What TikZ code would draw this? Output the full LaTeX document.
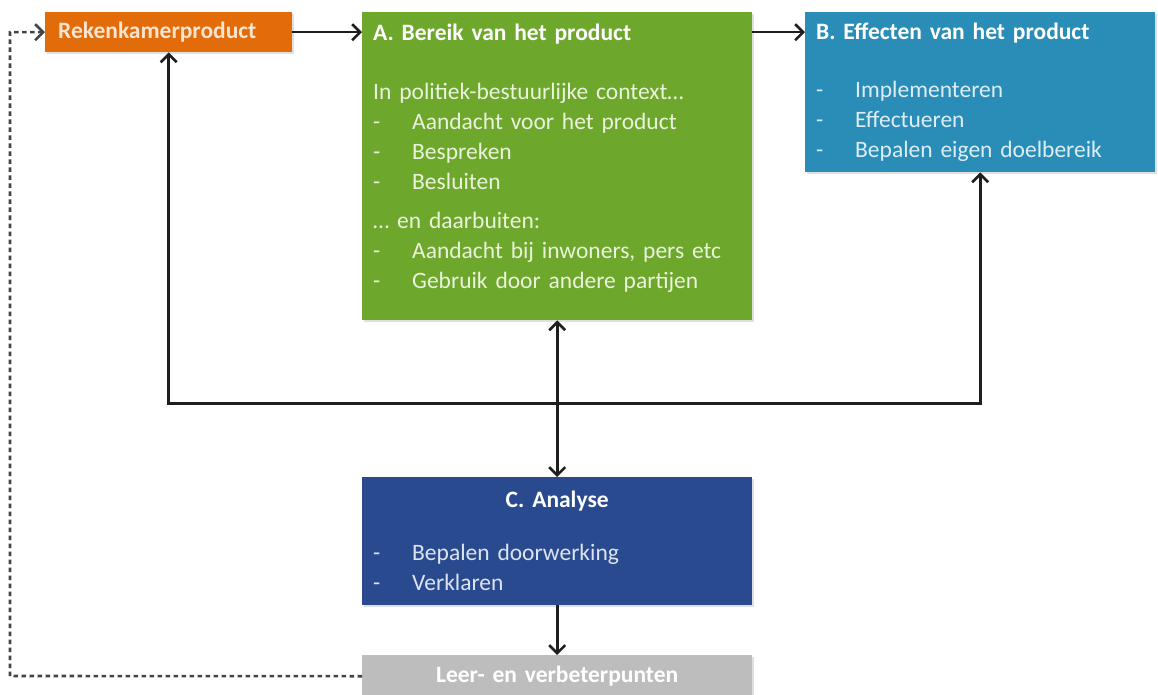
\documentclass[tikz,border=0pt]{standalone}
\usepackage{fontspec}
\setmainfont{Carlito}
\usepackage{xcolor}
\usepackage{tikz}
\usetikzlibrary{calc,arrows.meta,shadows}
\definecolor{ink}{HTML}{1E1E1E}
\definecolor{dashink}{HTML}{444444}
\definecolor{orangebg}{HTML}{E36C0A}
\definecolor{orangetx}{HTML}{FCE4CF}
\definecolor{greenbg}{HTML}{6DA72C}
\definecolor{greentx}{HTML}{EAF3DC}
\definecolor{aquabg}{HTML}{2A8DB8}
\definecolor{aquatx}{HTML}{DCEEF5}
\definecolor{navybg}{HTML}{2A4A90}
\definecolor{navytx}{HTML}{DCE4F2}
\definecolor{greybg}{HTML}{BDBDBD}
\tikzset{
  box/.style={rectangle, anchor=north west, inner xsep=11pt, inner ysep=0pt,
    align=left, font=\fontsize{23.5}{30}\selectfont,
    drop shadow={shadow xshift=1.5pt, shadow yshift=-1.5pt, opacity=0.25}},
  conn/.style={draw=ink, line width=2.6pt, -{Straight Barb[length=8pt,width=16pt]}},
  both/.style={conn, {Straight Barb[length=8pt,width=16pt]}-{Straight Barb[length=8pt,width=16pt]}},
  back/.style={draw=dashink, line width=2.6pt, dash pattern=on 4.5pt off 3.5pt,
    -{Straight Barb[length=8pt,width=16pt]}}
}
\newcommand{\dashitem}[1]{\makebox[39pt][l]{-}#1}

\begin{document}
\begin{tikzpicture}[x=1pt,y=-1pt]
  \useasboundingbox (0,0) rectangle (1158,695);
  % boxes
  \node[box, fill=orangebg, text=orangetx, minimum width=247pt, minimum height=40pt,
    inner xsep=13pt, text width=221pt, font=\fontsize{23.5}{30}\selectfont\bfseries] (reken) at (45,12)
    {Rekenkamerproduct};
  \node[box, fill=greenbg, text=greentx, minimum width=390pt, minimum height=308pt,
    text width=368pt, text height=1pt] (bereik) at (362,12)
    {{\bfseries\color{white}A. Bereik van het product}\\[29pt]
     In politiek-bestuurlijke context\dots\\
     \dashitem{Aandacht voor het product}\\
     \dashitem{Bespreken}\\
     \dashitem{Besluiten}\\[9pt]
     \dots\ en daarbuiten:\\
     \dashitem{Aandacht bij inwoners, pers etc}\\
     \dashitem{Gebruik door andere partijen}};
  \node[box, fill=aquabg, text=aquatx, minimum width=350pt, minimum height=160pt,
    text width=328pt] (effect) at (805,12)
    {{\bfseries\color{white}B. Effecten van het product}\\[28pt]
     \dashitem{Implementeren}\\
     \dashitem{Effectueren}\\
     \dashitem{Bepalen eigen doelbereik}};
  \node[box, fill=navybg, text=navytx, minimum width=390pt, minimum height=128pt,
    text width=368pt] (analyse) at (362,477)
    {\makebox[368pt]{\bfseries\color{white}C. Analyse}\\[23pt]
     \dashitem{Bepalen doorwerking}\\
     \dashitem{Verklaren}};
  \node[box, fill=greybg, text=white, minimum width=390pt, minimum height=42pt,
    align=center, text width=368pt, font=\fontsize{23.5}{30}\selectfont\bfseries] (leer) at (362,655)
    {Leer- en verbeterpunten};
  % connectors
  \coordinate (hub) at ($(bereik.south)!0.53!(analyse.north)$);
  \coordinate (turn) at (10,676);
  \draw[conn] (reken) -- (bereik.west |- reken.east);
  \draw[conn] (bereik.east |- reken.east) -- (effect.west |- reken.east);
  \draw[both] (bereik.south) -- (analyse.north);
  \draw[conn] (hub) -| (reken.south);
  \draw[conn] (hub) -| (effect.south);
  \draw[conn] (analyse.south) -- (leer.north);
  \draw[back] (leer.west) -- (turn) |- (reken.west);
\end{tikzpicture}
\end{document}
